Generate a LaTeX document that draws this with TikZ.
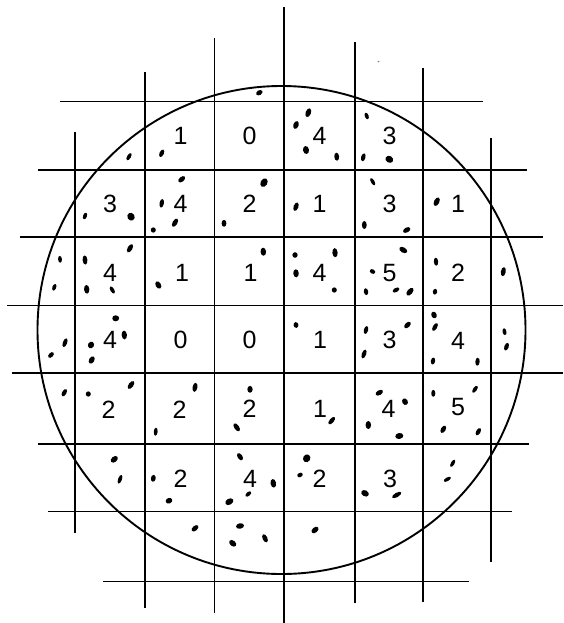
\documentclass[tikz,border=0pt]{standalone}
\usepackage{fontspec}
\setsansfont{Liberation Sans}
\newcommand\blob[5]{\fill[rotate around={#3:(#1,#2)}] (#1,#2) ellipse [x radius={#4*1.15}, y radius={#5*1.2}];}
\begin{document}
\begin{tikzpicture}[x=1pt,y=-1pt,
  gridline/.style={line width=1.3pt},
  wafer/.style={line width=1.9pt},
  num/.style={font=\fontsize{25}{25}\sffamily, inner sep=0pt}]
\useasboundingbox (0,0) rectangle (563,623);
% horizontal grid lines
\draw[gridline] (60,101.5) -- (483,101.5);
\draw[gridline] (38,170) -- (527,170);
\draw[gridline] (20,237) -- (543,237);
\draw[gridline] (7,305.5) -- (563,305.5);
\draw[gridline] (12,373) -- (563,373);
\draw[gridline] (38,444) -- (529,444);
\draw[gridline] (48,511.5) -- (512,511.5);
\draw[gridline] (103,581.5) -- (469,581.5);
% vertical grid lines
\draw[gridline] (75,131.5) -- (75,532.5);
\draw[gridline] (145,72) -- (145,608);
\draw[gridline] (214.5,38) -- (214.5,613);
\draw[gridline] (284,7) -- (284,623);
\draw[gridline] (355,42) -- (355,603);
\draw[gridline] (423,68) -- (423,602);
\draw[gridline] (491,138) -- (491,562);
% wafer outline
\draw[wafer] (281.5,330) circle (244);
% numbers
\node[num] (r1c2) at (180.5,136) {1};
\node[num] (r1c3) at (249.5,136) {0};
\node[num] (r1c4) at (319.5,136) {4};
\node[num] (r1c5) at (389.5,136) {3};
\node[num] (r2c1) at (110,204) {3};
\node[num] (r2c2) at (180.5,204) {4};
\node[num] (r2c3) at (249.5,204) {2};
\node[num] (r2c4) at (319.5,204) {1};
\node[num] (r2c5) at (389.5,204) {3};
\node[num] (r2c6) at (458,204) {1};
\node[num] (r3c1) at (110,272.7) {4};
\node[num] (r3c2) at (182,272.7) {1};
\node[num] (r3c3) at (250.5,272.7) {1};
\node[num] (r3c4) at (319.5,272.7) {4};
\node[num] (r3c5) at (389.5,272.7) {5};
\node[num] (r3c6) at (458,272.7) {2};
\node[num] (r4c1) at (110,340) {4};
\node[num] (r4c2) at (180.5,340) {0};
\node[num] (r4c3) at (249.5,340) {0};
\node[num] (r4c4) at (320,340) {1};
\node[num] (r4c5) at (389.5,340) {3};
\node[num] (r4c6) at (458,340.5) {4};
\node[num] (r5c1) at (108.5,410) {2};
\node[num] (r5c2) at (179.5,410) {2};
\node[num] (r5c3) at (249.5,409) {2};
\node[num] (r5c4) at (320,408.5) {1};
\node[num] (r5c5) at (388.5,408.5) {4};
\node[num] (r5c6) at (458,407) {5};
\node[num] (r6c2) at (180.5,479) {2};
\node[num] (r6c3) at (250,479) {4};
\node[num] (r6c4) at (319.5,478.5) {2};
\node[num] (r6c5) at (390,479) {3};
% particles
\fill[black!50] (378.5,61.7) ellipse [x radius=1.2, y radius=0.6];
\blob{259.3}{92.7}{30}{3}{2}
\blob{129}{156.7}{60}{3.5}{1.6}
\blob{161.7}{153.3}{65}{3.5}{1.8}
\blob{308.3}{112.7}{70}{4}{2.2}
\blob{296}{125}{70}{3.5}{2.2}
\blob{306}{150}{100}{3.5}{2.5}
\blob{336.7}{156.7}{95}{3.5}{2}
\blob{366.7}{116}{110}{3}{1.6}
\blob{363.3}{157.3}{75}{3.5}{1.8}
\blob{389.3}{159.3}{150}{3.5}{2.8}
\blob{181.7}{179.3}{40}{3.5}{2}
\blob{85}{216}{70}{3}{1.6}
\blob{131}{216.7}{120}{3.5}{3}
\blob{161.7}{203.3}{80}{3.8}{1.8}
\blob{175}{222.7}{60}{4}{2}
\blob{153.3}{230}{0}{2.2}{2.2}
\blob{264}{182.7}{60}{4}{2.8}
\blob{224}{223.3}{90}{3}{2}
\blob{296}{206.7}{70}{3.8}{2}
\blob{372.7}{181.7}{120}{3.5}{1.5}
\blob{364.3}{225}{90}{3.5}{2}
\blob{406.7}{230}{30}{3.5}{2}
\blob{436.7}{201.7}{65}{4}{2.2}
\blob{60}{259.3}{95}{3}{1.6}
\blob{85}{260}{95}{4}{2}
\blob{130}{248.3}{60}{4}{2}
\blob{54.3}{287.3}{70}{3}{1.6}
\blob{86.7}{289.3}{95}{3.8}{2.2}
\blob{112.3}{290}{120}{3.5}{1.6}
\blob{158.3}{285}{120}{3.5}{2.2}
\blob{263.3}{251.7}{95}{3.5}{2.3}
\blob{295}{255}{0}{2.3}{2.3}
\blob{296}{273.3}{95}{3.5}{2.3}
\blob{335}{252.7}{95}{4}{2.2}
\blob{334.3}{290}{0}{2.2}{2.2}
\blob{372.5}{271.5}{150}{2.5}{1.8}
\blob{366}{291.7}{100}{3}{1.8}
\blob{403.3}{250}{150}{3.8}{2.2}
\blob{396}{290}{30}{3.2}{1.7}
\blob{410}{291.7}{50}{4}{2.2}
\blob{436}{261.7}{95}{3.5}{1.8}
\blob{435}{291.7}{80}{2.5}{1.8}
\blob{503.3}{271.7}{80}{4}{2}
\blob{115.7}{318.3}{0}{3}{2.5}
\blob{124.3}{335}{95}{3.8}{2.2}
\blob{65}{342.7}{70}{4}{1.8}
\blob{51}{355}{45}{3}{1.8}
\blob{91}{345}{60}{3}{2.5}
\blob{91.7}{360}{60}{3.5}{2.2}
\blob{296}{325}{100}{2.5}{2}
\blob{366}{330}{75}{3.5}{1.8}
\blob{407.5}{325}{45}{3.5}{2}
\blob{364}{354}{70}{4}{1.8}
\blob{434}{315}{110}{3}{2.2}
\blob{435}{327}{60}{3.8}{1.8}
\blob{433}{361}{80}{3}{1.8}
\blob{477.5}{361.7}{85}{3.5}{1.8}
\blob{504.5}{331.7}{100}{3}{1.6}
\blob{506.5}{346.7}{70}{3.5}{1.8}
\blob{64.3}{392.7}{60}{3.5}{1.8}
\blob{88.3}{394}{0}{2.2}{2.2}
\blob{131}{385}{55}{4}{2}
\blob{195}{387.3}{80}{4}{2}
\blob{155.7}{431.7}{85}{3.5}{1.6}
\blob{250}{389.3}{90}{3}{2.2}
\blob{236.7}{427.3}{125}{4}{2}
\blob{331.7}{420.7}{50}{4}{1.8}
\blob{368.3}{425}{90}{3.5}{2.3}
\blob{379.3}{392.7}{30}{3.5}{2}
\blob{405}{401.7}{120}{3}{2.3}
\blob{399.3}{436}{10}{3.5}{2.5}
\blob{433.3}{393.3}{90}{3}{1.7}
\blob{475}{389.3}{55}{3.5}{1.6}
\blob{443.3}{429.3}{60}{3.5}{2}
\blob{478.3}{431.7}{60}{3.5}{1.8}
\blob{114.3}{459.3}{40}{3.5}{2.3}
\blob{120}{479.3}{70}{4}{1.6}
\blob{153.3}{478.3}{80}{3}{2}
\blob{169}{500.7}{20}{3}{2.3}
\blob{240}{456.7}{125}{3.5}{2}
\blob{273.3}{483.3}{100}{3.8}{2.3}
\blob{248.3}{494}{40}{3}{1.6}
\blob{229.3}{501.7}{30}{3.8}{2.5}
\blob{306.7}{458.3}{60}{3.5}{3}
\blob{300}{475}{30}{2.5}{1.8}
\blob{365}{493.3}{150}{3.5}{2.5}
\blob{396.7}{495}{30}{4.5}{1.8}
\blob{452.7}{463.3}{60}{3.5}{1.5}
\blob{447.3}{479.3}{30}{3.5}{1.5}
\blob{195}{528.3}{40}{3.5}{2}
\blob{240}{526}{10}{3.5}{2.3}
\blob{232.7}{543.3}{140}{3.5}{2.3}
\blob{265}{538.3}{115}{3.8}{2}
\blob{315}{530}{40}{3.5}{2.2}
\end{tikzpicture}
\end{document}
